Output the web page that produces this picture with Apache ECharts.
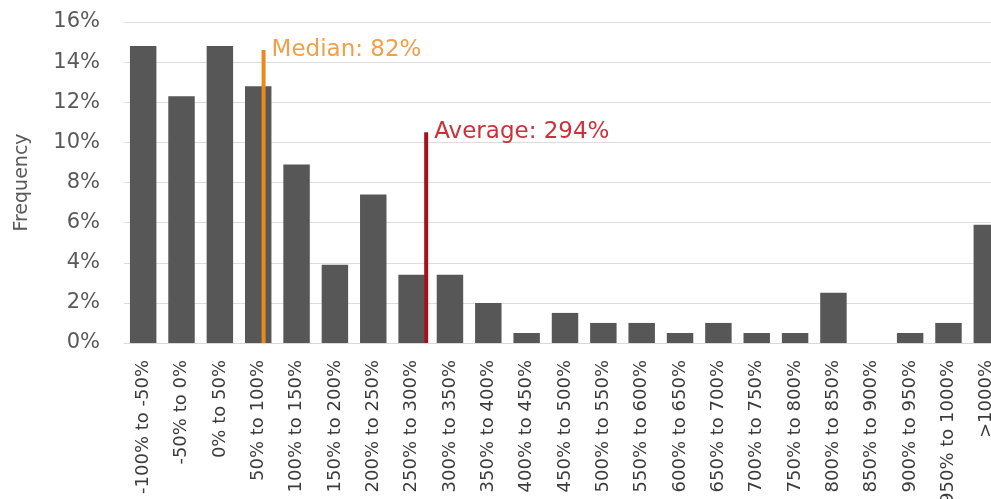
<!DOCTYPE html>
<html>
<head>
<meta charset="utf-8">
<script src="https://cdn.jsdelivr.net/npm/echarts@6/dist/echarts.min.js"></script>
<style>
  html, body { margin: 0; padding: 0; background: #ffffff; overflow: hidden; }
  #chart { width: 991px; height: 499px; }
</style>
</head>
<body>
<div id="chart"></div>
<script>
// Return buckets (category labels along the x axis)
const buckets = [
  '-100% to -50%', '-50% to 0%', '0% to 50%', '50% to 100%', '100% to 150%',
  '150% to 200%', '200% to 250%', '250% to 300%', '300% to 350%', '350% to 400%',
  '400% to 450%', '450% to 500%', '500% to 550%', '550% to 600%', '600% to 650%',
  '650% to 700%', '700% to 750%', '750% to 800%', '800% to 850%', '850% to 900%',
  '900% to 950%', '950% to 1000%', '>1000%'
];

// Share of observations in each bucket (%)
const frequency = [
  14.8, 12.3, 14.8, 12.8, 8.9, 3.9, 7.4, 3.4, 3.4, 2.0,
  0.5, 1.5, 1.0, 1.0, 0.5, 1.0, 0.5, 0.5, 2.5, 0.0,
  0.5, 1.0, 5.9
];

// Summary statistics (return, %) and the height of their marker lines (frequency, %)
const medianReturn = 82;
const medianLineTop = 14.6;
const averageReturn = 294;
const averageLineTop = 10.5;

// Y axis ticks
const yMin = 0, yMax = 16, yStep = 2;

// Return scale underlying the buckets: each bucket spans 50 points starting at -100
const returnMin = -100, bucketSize = 50;
const returnMax = returnMin + bucketSize * buckets.length;

const FONT = 'DejaVu Sans';

// Vertical marker line from the baseline up to `top`, labelled at its upper end
function statLine(name, x, top, lineColor, textColor) {
  return {
    name: name,
    type: 'line',
    xAxisIndex: 1,
    yAxisIndex: 0,
    symbol: 'none',
    silent: true,
    z: 5,
    lineStyle: { color: lineColor, width: 4 },
    endLabel: {
      show: true,
      distance: 8,
      formatter: name + ': ' + x + '%',
      color: textColor,
      fontFamily: FONT,
      fontSize: 23,
      align: 'left',
      verticalAlign: 'middle'
    },
    data: [[x, 0], [x, top]]
  };
}

const chart = echarts.init(document.getElementById('chart'), null, { renderer: 'canvas' });

// The plot area runs past the right edge of the canvas, so the last bucket is partly cut off
chart.setOption({
  animation: false,
  backgroundColor: '#ffffff',
  grid: {
    left: 124, width: 882, top: 22, bottom: 156,
    containLabel: false,
    outerBoundsMode: 'none'
  },
  xAxis: [
    {
      type: 'category',
      data: buckets,
      boundaryGap: true,
      axisLine: { show: true, lineStyle: { color: '#d9d9d9', width: 1 } },
      axisTick: { show: false },
      axisLabel: {
        interval: 0,
        rotate: 90,
        margin: 17,
        color: '#3c3c3c',
        fontFamily: FONT,
        fontSize: 18
      },
      splitLine: { show: false }
    },
    {
      type: 'value',
      min: returnMin,
      max: returnMax,
      show: false,
      position: 'bottom'
    }
  ],
  yAxis: {
    type: 'value',
    min: yMin,
    max: yMax,
    interval: yStep,
    name: 'Frequency',
    nameLocation: 'middle',
    nameGap: 92,
    nameTextStyle: { color: '#595959', fontFamily: FONT, fontSize: 19 },
    axisLine: { show: false },
    axisTick: { show: false },
    axisLabel: {
      margin: 24,
      color: '#595959',
      fontFamily: FONT,
      fontSize: 21,
      formatter: v => v + '%'
    },
    splitLine: { show: true, lineStyle: { color: '#dcdcdc', width: 1 } }
  },
  series: [
    {
      name: 'Frequency',
      type: 'bar',
      xAxisIndex: 0,
      data: frequency,
      barCategoryGap: '31%',
      itemStyle: { color: '#575757' }
    },
    statLine('Median', medianReturn, medianLineTop, '#ea8a1e', '#f0a048'),
    statLine('Average', averageReturn, averageLineTop, '#a3111a', '#cc3039')
  ]
});
</script>
</body>
</html>
